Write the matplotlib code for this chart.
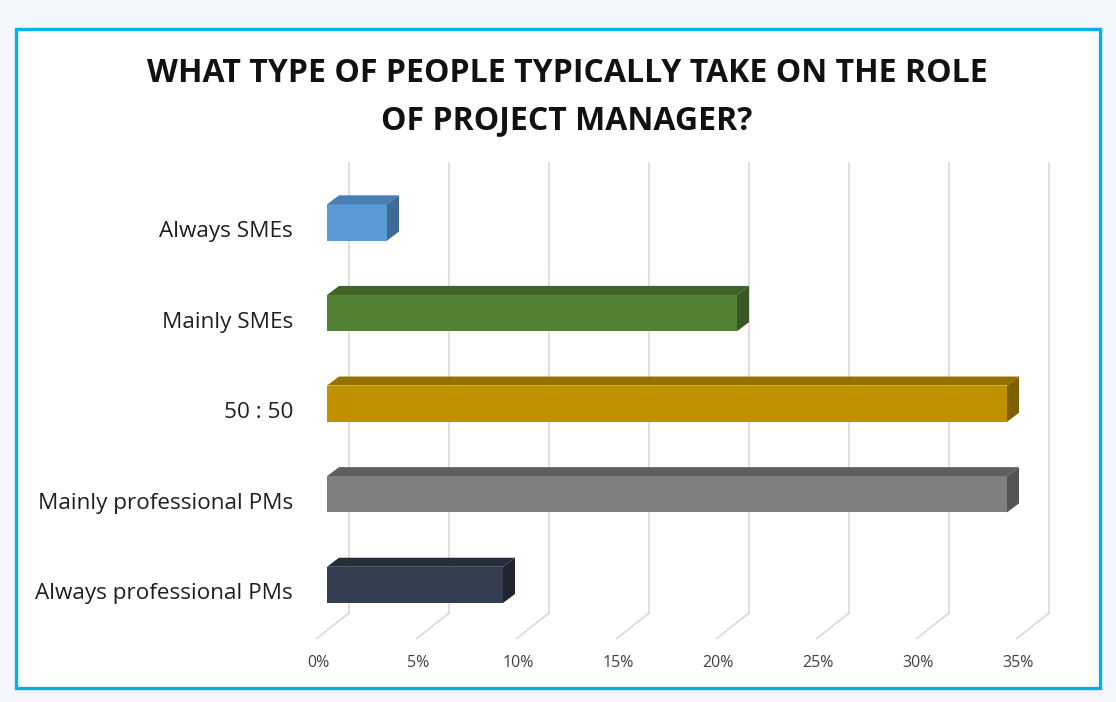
import matplotlib.pyplot as plt
from matplotlib.patches import Polygon, Rectangle

# values (percent of respondents)
categories = ['Always SMEs', 'Mainly SMEs', '50 : 50',
              'Mainly professional PMs', 'Always professional PMs']
values = [3.0, 20.5, 34.0, 34.0, 8.8]
ticks = [0, 5, 10, 15, 20, 25, 30, 35]
tick_labels = ['0%', '5%', '10%', '15%', '20%', '25%', '30%', '35%']

front_colors = ['#5b9bd5', '#548235', '#bf9000', '#7f7f7f', '#333f50']
top_colors = ['#4a7fb5', '#3f6428', '#937000', '#5f5f5f', '#252e3b']
side_colors = ['#3d6a96', '#385723', '#7f6000', '#555555', '#1f2631']

plt.rcParams['font.family'] = ['Open Sans', 'DejaVu Sans']

W, H = 1116, 702
fig = plt.figure(figsize=(W / 100, H / 100), dpi=100, facecolor='#f3f6fa')

# blue frame around the chart
fig.patches.append(Rectangle((16 / W, 1 - 688 / H), 1084 / W, 659 / H,
                             transform=fig.transFigure, facecolor='white',
                             edgecolor='#00b0f0', linewidth=2.4, zorder=-5))

fig.text(0.508, 1 - 74 / H, 'WHAT TYPE OF PEOPLE TYPICALLY TAKE ON THE ROLE',
         ha='center', va='center', fontsize=23, fontweight='bold', color='#111111')
fig.text(0.508, 1 - 121 / H, 'OF PROJECT MANAGER?',
         ha='center', va='center', fontsize=23, fontweight='bold', color='#111111')

# axes in pixel box x 300..1060, y 150..680; data: x=% (front face), y=category index
ax = fig.add_axes([300 / W, 1 - 680 / H, 760 / W, 530 / H])
ax.set_zorder(2)
ax.set_xlim((300 - 327) / 20, (1060 - 327) / 20)
ax.set_ylim((680 - 222.5) / 90.6, (150 - 222.5) / 90.6)
ax.axis('off')

# 3d offsets in data units
back = 1.1      # back wall shift in %
front = -0.5    # floor front shift in %
wall_top, wall_bot, floor_front = -0.66, 4.31, 4.59
dx, dy = 0.6, 0.1
half = 0.2

for t in ticks:
    ax.plot([t + back, t + back], [wall_top, wall_bot], color='#d9d9d9', lw=1.2, zorder=1)
    ax.plot([t + back, t + front], [wall_bot, floor_front], color='#d9d9d9', lw=1.2, zorder=1)

for t, lab in zip(ticks, tick_labels):
    ax.text(t + front + 0.05, 4.86, lab, ha='center', va='center',
            fontsize=11.5, color='#404040', clip_on=False)

pos = list(range(len(categories)))
ax.barh(pos, values, height=2 * half, color=front_colors, zorder=3)
for i, v in enumerate(values):
    top = [(0, i - half), (v, i - half), (v + dx, i - half - dy), (dx, i - half - dy)]
    side = [(v, i - half), (v + dx, i - half - dy), (v + dx, i + half - dy), (v, i + half)]
    ax.add_patch(Polygon(top, closed=True, facecolor=top_colors[i], edgecolor='none', zorder=3))
    ax.add_patch(Polygon(side, closed=True, facecolor=side_colors[i], edgecolor='none', zorder=3))
    ax.text((293 - 327) / 20, i + 0.1, categories[i], ha='right', va='center',
            fontsize=16.2, color='#1f1f1f', clip_on=False)

fig.savefig('out.png', dpi=100, facecolor=fig.get_facecolor())
